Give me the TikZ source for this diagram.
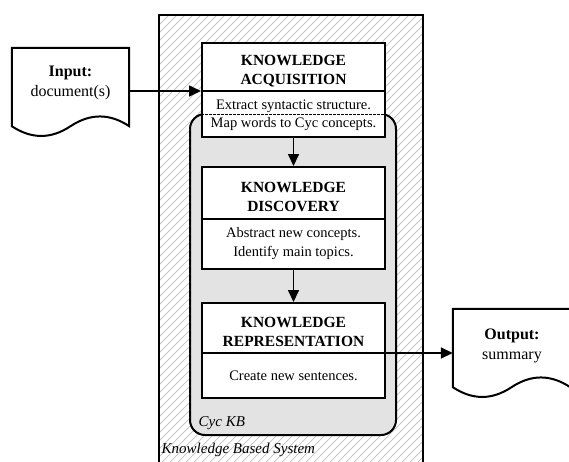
\documentclass[tikz,border=0pt]{standalone}
\usepackage{fontspec}
\setmainfont{Liberation Serif}
\usetikzlibrary{arrows.meta,calc}
\begin{document}
\begin{tikzpicture}[x=1pt,y=-1pt,
  boxstyle/.style={draw=black, line width=2pt, fill=white, inner sep=0pt, minimum width=183pt},
  titlestyle/.style={align=center, font=\fontsize{15.5}{19}\selectfont\bfseries, inner sep=0pt, anchor=north},
  bodystyle/.style={align=center, font=\fontsize{14.5}{19}\selectfont, inner sep=0pt},
  docstyle/.style={align=center, font=\fontsize{16}{20}\selectfont, inner sep=0pt, anchor=north},
  docshape/.style={draw=black, line width=2pt, fill=white},
  divider/.style={line width=1.5pt},
  arr/.style={line width=1.6pt, -{Triangle[length=12pt,width=11pt]}},
  hatch/.style={draw=black!25, line width=0.7pt},
  lbl/.style={font=\fontsize{15}{18}\selectfont\itshape, inner sep=0pt, anchor=base west}
]
\useasboundingbox (0,0) rectangle (569,461);
\clip (0,0) rectangle (569,461);

% outer knowledge based system box
\node[fill=white, inner sep=0pt, minimum width=264pt, minimum height=465pt] (kbs) at (291,247.5) {};
\begin{scope}
  \clip (kbs.north west) rectangle (kbs.south east);
  \foreach \i in {-312,-304,...,432} \draw[hatch] (\i,480) -- ++(470,-470);
\end{scope}
\draw[line width=2pt] (kbs.north west) rectangle (kbs.south east);

% Cyc KB
\node[draw=black, line width=2pt, fill=black!11, rounded corners=15pt, inner sep=0pt,
      minimum width=206pt, minimum height=321pt] (cyc) at (293,274.5) {};

% Knowledge acquisition
\node[boxstyle, minimum height=94pt] (ka) at (293.5,90) {};
\draw[divider] (ka.west |- 0,91) -- (ka.east |- 0,91);
\draw[line width=0.9pt, dash pattern=on 2.5pt off 1.5pt] (ka.west |- 0,114) -- (ka.east |- 0,114);
\node[titlestyle] (kat) at (293.5,55) {KNOWLEDGE\\ACQUISITION};
\node[bodystyle, anchor=base] (kab1) at (293.5,109) {Extract syntactic structure.};
\node[bodystyle, anchor=base] (kab2) at (293.5,127.5) {Map words to Cyc concepts.};

% Knowledge discovery
\node[boxstyle, minimum height=102pt] (kd) at (293.5,218) {};
\draw[divider] (kd.west |- 0,219) -- (kd.east |- 0,219);
\node[titlestyle] (kdt) at (293.5,182) {KNOWLEDGE\\DISCOVERY};
\node[bodystyle, anchor=north] (kdb) at (293.5,227.5) {Abstract new concepts.\\Identify main topics.};

% Knowledge representation
\node[boxstyle, minimum height=95pt] (kr) at (293.5,350.5) {};
\draw[divider] (kr.west |- 0,353) -- (kr.east |- 0,353);
\node[titlestyle] (krt) at (293.5,317) {KNOWLEDGE\\REPRESENTATION};
\node[bodystyle, anchor=base] (krb) at (293.5,380) {Create new sentences.};

% labels
\node[lbl] (cyclbl) at (198.5,426) {Cyc KB};
\node[lbl] (kbslbl) at (161.5,453) {Knowledge Based System};

% input document
\node[inner sep=0pt, minimum width=117pt, minimum height=78pt] (inp) at (70.5,87) {};
\draw[docshape] (inp.south west) -- (inp.north west) -- (inp.north east) -- (inp.south east)
  .. controls ($(inp.south east)+(-19.5,-13)$) and ($(inp.south east)+(-39,-13)$) .. (inp.south)
  .. controls ($(inp.south)+(-19.5,13)$) and ($(inp.south)+(-39,13)$) .. (inp.south west) -- cycle;
\node[docstyle] (inpt) at (70.5,66) {\textbf{Input:}\\document(s)};

% output document
\node[inner sep=0pt, minimum width=117pt, minimum height=78pt] (out) at (511.5,348) {};
\draw[docshape] (out.south west) -- (out.north west) -- (out.north east) -- (out.south east)
  .. controls ($(out.south east)+(-19.5,-13)$) and ($(out.south east)+(-39,-13)$) .. (out.south)
  .. controls ($(out.south)+(-19.5,13)$) and ($(out.south)+(-39,13)$) .. (out.south west) -- cycle;
\node[docstyle] (outt) at (512,328.5) {\textbf{Output:}\\summary};

% connectors
\coordinate (kain) at (ka.west |- 0,91);
\coordinate (krout) at (kr.east |- 0,353);
\draw[arr] (inp.east |- kain) -- (kain);
\draw[arr] (ka.south) -- (kd.north);
\draw[arr] (kd.south) -- (kr.north);
\draw[arr] (krout) -- (out.west |- krout);
\end{tikzpicture}
\end{document}
